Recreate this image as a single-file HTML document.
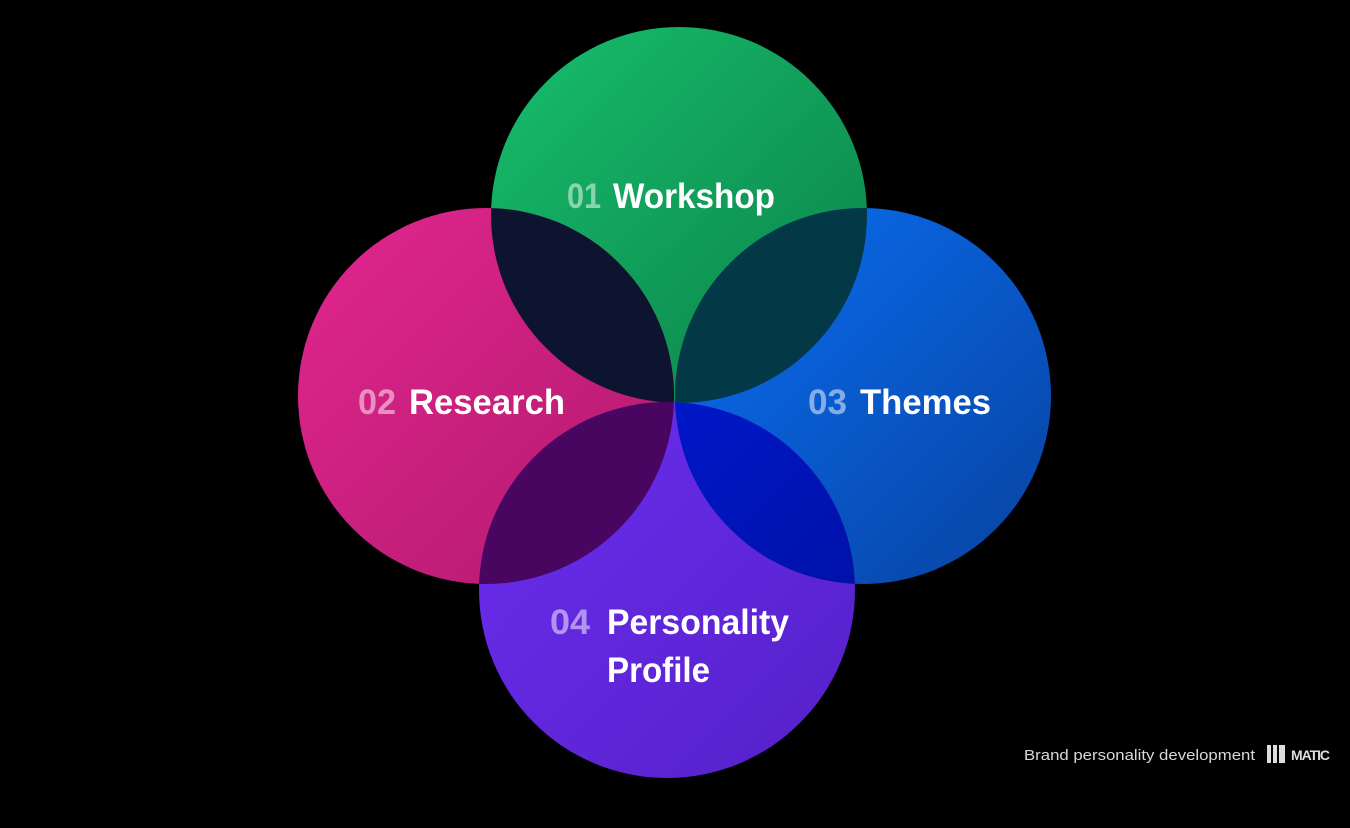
<!DOCTYPE html>
<html><head><meta charset="utf-8"><style>
html,body{margin:0;padding:0;background:#000;width:1350px;height:828px;overflow:hidden}
svg{display:block}
text{font-family:"Liberation Sans",sans-serif}
</style></head><body>
<svg width="1350" height="828" viewBox="0 0 1350 828" xmlns="http://www.w3.org/2000/svg">
<defs>
<linearGradient id="gG" x1="0" y1="0" x2="1" y2="1"><stop offset="0" stop-color="#17be6c"/><stop offset="1" stop-color="#0b8048"/></linearGradient>
<linearGradient id="gP" x1="0" y1="0" x2="1" y2="1"><stop offset="0" stop-color="#e2268f"/><stop offset="1" stop-color="#b01a6c"/></linearGradient>
<linearGradient id="gB" x1="0" y1="0" x2="1" y2="1"><stop offset="0" stop-color="#0a70f5"/><stop offset="1" stop-color="#0842a0"/></linearGradient>
<linearGradient id="gV" x1="0" y1="0" x2="1" y2="1"><stop offset="0" stop-color="#6c2ef0"/><stop offset="1" stop-color="#5520c8"/></linearGradient>
<linearGradient id="gBV" x1="0" y1="0" x2="1" y2="1"><stop offset="0" stop-color="#001ad8"/><stop offset="1" stop-color="#000f98"/></linearGradient>
<clipPath id="cG"><circle cx="679" cy="215" r="188"/></clipPath>
<clipPath id="cV"><circle cx="667" cy="590" r="188"/></clipPath>
</defs>
<circle cx="679" cy="215" r="188" fill="url(#gG)"/>
<circle cx="486" cy="396" r="188" fill="url(#gP)"/>
<circle cx="863" cy="396" r="188" fill="url(#gB)"/>
<circle cx="667" cy="590" r="188" fill="url(#gV)"/>
<circle cx="486" cy="396" r="188" fill="#0d1430" clip-path="url(#cG)"/>
<circle cx="863" cy="396" r="188" fill="#033847" clip-path="url(#cG)"/>
<circle cx="486" cy="396" r="188" fill="#480660" clip-path="url(#cV)"/>
<circle cx="863" cy="396" r="188" fill="url(#gBV)" clip-path="url(#cV)"/>
<g font-size="35" font-weight="bold" fill="#fff">
<text x="567" y="208" fill="#fff" fill-opacity="0.5" textLength="34" lengthAdjust="spacingAndGlyphs">01</text>
<text x="613" y="208" textLength="162" lengthAdjust="spacingAndGlyphs">Workshop</text>
<text x="358" y="414" fill="#fff" fill-opacity="0.5" textLength="38" lengthAdjust="spacingAndGlyphs">02</text>
<text x="409" y="414" textLength="156" lengthAdjust="spacingAndGlyphs">Research</text>
<text x="808" y="414" fill="#fff" fill-opacity="0.5" textLength="39" lengthAdjust="spacingAndGlyphs">03</text>
<text x="860" y="414" textLength="131" lengthAdjust="spacingAndGlyphs">Themes</text>
<text x="550" y="634" fill="#fff" fill-opacity="0.5" textLength="40" lengthAdjust="spacingAndGlyphs">04</text>
<text x="607" y="634" textLength="182" lengthAdjust="spacingAndGlyphs">Personality</text>
<text x="607" y="682" textLength="103" lengthAdjust="spacingAndGlyphs">Profile</text>
</g>
<text x="1024" y="760" font-size="15" fill="#d8d8d8" textLength="231" lengthAdjust="spacingAndGlyphs">Brand personality development</text>
<rect x="1267" y="745" width="4" height="18" fill="#ddd"/>
<rect x="1273" y="745" width="4" height="18" fill="#ddd"/>
<rect x="1279" y="745" width="6" height="18" fill="#ddd"/>
<text x="1291" y="760" font-size="14" font-weight="bold" fill="#ddd" textLength="39" lengthAdjust="spacing">MATIC</text>
</svg>
</body></html>
